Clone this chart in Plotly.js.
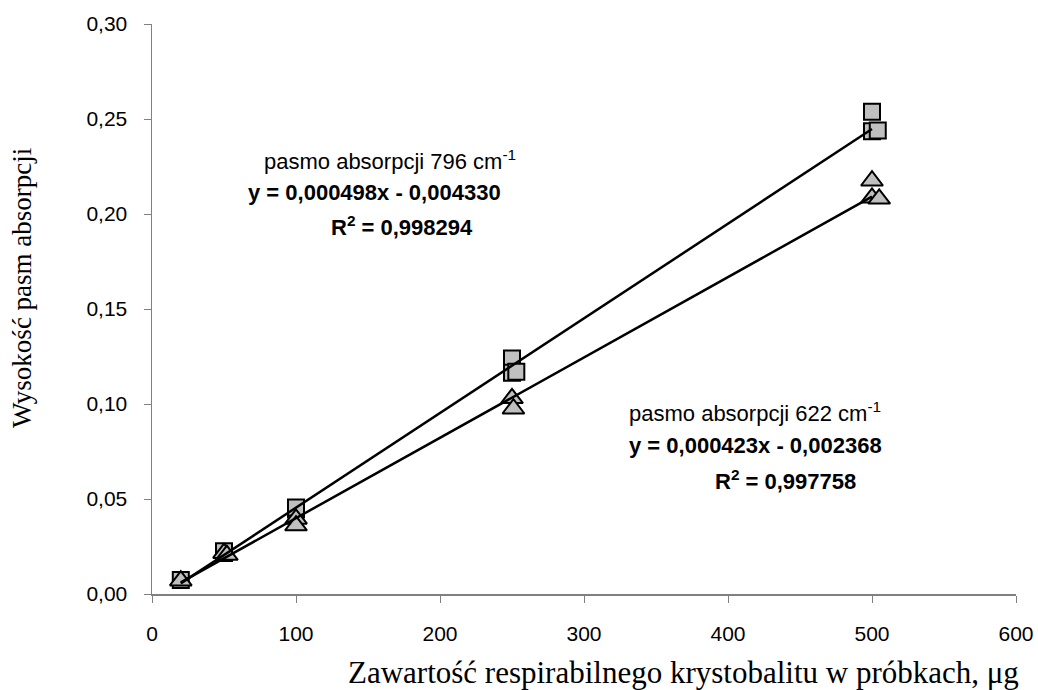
<!DOCTYPE html>
<html>
<head>
<meta charset="utf-8">
<script src="https://cdn.plot.ly/plotly-3.0.1.min.js"></script>
<style>html,body{margin:0;padding:0;background:#fff;}#chart{width:1038px;height:690px;}</style>
</head>
<body>
<div id="chart"></div>
<script>
// Band 796 cm-1 (squares)
const x796 = [20, 50, 50, 100, 100, 250, 250, 253, 500, 500, 504];
const y796 = [0.0074, 0.0216, 0.0225, 0.0445, 0.0455, 0.1240, 0.1165, 0.1170, 0.2538, 0.2435, 0.2440];
// Band 622 cm-1 (triangles)
const x622 = [20, 50, 52, 100, 100, 250, 251, 500, 500, 505];
const y622 = [0.0070, 0.0215, 0.0205, 0.0395, 0.0360, 0.1030, 0.0975, 0.2175, 0.2085, 0.2080];
// Trendline end points
const trendX = [20, 500];
const trend796 = [0.0056, 0.2447];
const trend622 = [0.0061, 0.2091];
// Labels
const label796 = ["pasmo absorpcji 796 cm<sup>-1</sup>", "<b>y = 0,000498x - 0,004330</b>", "<b>R<sup>2</sup> = 0,998294</b>"];
const label622 = ["pasmo absorpcji 622 cm<sup>-1</sup>", "<b>y = 0,000423x - 0,002368</b>", "<b>R<sup>2</sup> = 0,997758</b>"];
const xTitle = "Zawartość respirabilnego krystobalitu w próbkach, μg";
const yTitle = "Wysokość pasm absorpcji";

const fill = "#c0c0c0";
const traces = [
  {x: x796, y: y796, mode: "markers", type: "scatter",
   marker: {symbol: "square", size: 16, color: fill, line: {color: "#000", width: 2}}},
  {x: x622, y: y622, mode: "markers", type: "scatter",
   marker: {symbol: "triangle-up", size: 19, color: fill, line: {color: "#000", width: 2}}},
  {x: trendX, y: trend796, mode: "lines", type: "scatter", line: {color: "#000", width: 2.5}},
  {x: trendX, y: trend622, mode: "lines", type: "scatter", line: {color: "#000", width: 2.5}}
];

const annFont = {family: "Liberation Sans, Arial, sans-serif", size: 22, color: "#000"};
const anns = [];
const pos796 = [[165.3, 0.2284], [154.2, 0.2111], [173.6, 0.1937]];
const pos622 = [[418.8, 0.0958], [418.8, 0.0779], [439.6, 0.0600]];
label796.forEach((t, i) => anns.push({x: pos796[i][0], y: pos796[i][1], xref: "x", yref: "y", text: t, showarrow: false, font: annFont, xanchor: "center", yanchor: "middle"}));
label622.forEach((t, i) => anns.push({x: pos622[i][0], y: pos622[i][1], xref: "x", yref: "y", text: t, showarrow: false, font: annFont, xanchor: "center", yanchor: "middle"}));
const serif = "Liberation Serif, Times New Roman, serif";
anns.push({x: 683, y: 672, xref: "paper", yref: "paper", text: xTitle, showarrow: false, font: {family: serif, size: 31, color: "#000"}, xanchor: "center", yanchor: "middle"});
anns.push({x: 22, y: 288, xref: "paper", yref: "paper", text: yTitle, showarrow: false, font: {family: serif, size: 27, color: "#000"}, textangle: -90, xanchor: "center", yanchor: "middle"});
// convert pixel positions to paper coordinates
const W = 1038, H = 690, L = 152, R = 22, T = 24, B = 96;
anns.forEach(a => { if (a.xref === "paper") { a.x = (a.x - L) / (W - L - R); a.y = (H - B - a.y) / (H - T - B); } });

const layout = {
  width: W, height: H,
  margin: {l: L, r: R, t: T, b: B},
  paper_bgcolor: "#fff", plot_bgcolor: "#fff",
  showlegend: false,
  separators: ", ",
  font: {family: "Liberation Sans, Arial, sans-serif", size: 20, color: "#000"},
  xaxis: {range: [0, 600], tickvals: [0, 100, 200, 300, 400, 500, 600], showgrid: false, zeroline: false,
          showline: true, linecolor: "#808080", linewidth: 1.5, ticks: "outside", ticklen: 7, tickcolor: "#808080",
          ticklabelstandoff: 13, tickfont: {size: 21}},
  yaxis: {range: [0, 0.30], tickvals: [0, 0.05, 0.10, 0.15, 0.20, 0.25, 0.30], tickformat: ".2f", showgrid: false, zeroline: false,
          showline: true, linecolor: "#808080", linewidth: 1.5, ticks: "outside", ticklen: 7, tickcolor: "#808080",
          ticklabelstandoff: 12, tickfont: {size: 21}},
  annotations: anns
};
Plotly.newPlot("chart", traces, layout, {displayModeBar: false, staticPlot: true});
</script>
</body>
</html>
